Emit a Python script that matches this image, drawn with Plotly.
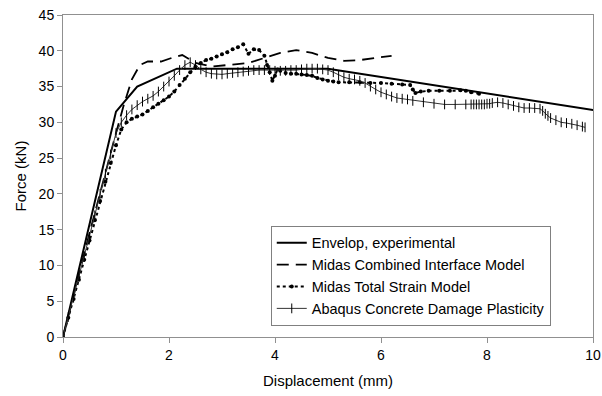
import plotly.graph_objects as go

# Envelop, experimental
env_x = [0, 1.0, 1.4, 2.15, 5.0, 10.1]
env_y = [0, 31.5, 35.0, 37.5, 37.5, 31.6]

# Midas Combined Interface Model
ci_x = [0, 0.5, 1.0, 1.15, 1.3, 1.45, 1.6, 1.85, 2.05, 2.25, 2.5, 2.8, 3.1, 3.5, 3.8, 4.1, 4.4, 4.7, 5.0, 5.3, 5.6, 5.9, 6.2]
ci_y = [0, 14.5, 28.5, 32.5, 36.0, 38.0, 38.5, 38.5, 39.0, 39.4, 38.3, 37.8, 38.0, 38.3, 39.0, 39.7, 40.1, 39.7, 39.0, 38.6, 38.7, 39.0, 39.3]

# Midas Total Strain Model
ts_x = [0, 0.1, 0.2, 0.3, 0.4, 0.5, 0.6, 0.7, 0.8, 0.9, 1.0, 1.1, 1.2, 1.3, 1.4, 1.5, 1.6, 1.7, 1.8, 1.9,
        2.0, 2.1, 2.2, 2.3, 2.4, 2.5, 2.6, 2.7, 2.8, 2.9, 3.0, 3.1, 3.2, 3.3, 3.4, 3.5, 3.6, 3.7, 3.8, 3.85,
        3.9, 3.95, 4.0, 4.05, 4.1, 4.2, 4.3, 4.4, 4.5, 4.6, 4.7, 4.8, 4.9, 5.0, 5.1, 5.2, 5.4, 5.6, 5.8, 6.0,
        6.2, 6.4, 6.55, 6.6, 6.65, 6.75, 6.9, 7.1, 7.3, 7.5, 7.6, 7.7, 7.85]
ts_y = [0, 2.7, 5.3, 8.0, 10.8, 13.5, 16.3, 19.0, 21.7, 24.3, 26.8, 29.0, 30.0, 30.5, 30.8, 31.1, 31.6, 32.1, 32.6, 33.1,
        33.6, 34.3, 35.2, 36.1, 37.0, 37.8, 38.3, 38.7, 38.9, 39.2, 39.5, 39.8, 40.2, 40.5, 40.9, 39.6, 40.2, 40.1, 39.3, 38.0,
        37.0, 35.8, 36.5, 37.4, 37.2, 36.9, 36.8, 36.8, 36.7, 36.6, 36.5, 36.2, 36.0, 35.8, 35.7, 35.6, 35.6, 35.6, 35.5, 35.5,
        35.4, 35.3, 35.2, 34.6, 34.1, 34.3, 34.4, 34.4, 34.4, 34.5, 34.4, 34.2, 34.0]

# Abaqus Concrete Damage Plasticity
ab_x = [0, 0.1, 0.2, 0.3, 0.4, 0.5, 0.6, 0.7, 0.8, 0.9, 1.0, 1.1, 1.2, 1.3, 1.4, 1.5, 1.6, 1.7, 1.8, 1.9,
        2.0, 2.1, 2.2, 2.3, 2.4, 2.5, 2.6, 2.7, 2.8, 2.9, 3.0, 3.1, 3.2, 3.3, 3.4, 3.5, 3.6, 3.7, 3.8, 3.9,
        4.0, 4.1, 4.2, 4.3, 4.4, 4.5, 4.6, 4.7, 4.8, 4.9, 5.0, 5.1, 5.2, 5.3, 5.4, 5.5, 5.6, 5.7, 5.8, 5.9,
        6.0, 6.1, 6.2, 6.3, 6.4, 6.5, 6.6, 6.8, 7.0, 7.2, 7.4, 7.6, 7.7, 7.75, 7.8, 7.85, 7.9, 7.95, 8.0, 8.05,
        8.1, 8.2, 8.3, 8.4, 8.5, 8.6, 8.7, 8.8, 8.9, 9.0, 9.05, 9.1, 9.15, 9.2, 9.3, 9.4, 9.5, 9.6, 9.7, 9.8, 9.85]
ab_y = [0, 2.8, 5.5, 8.5, 11.3, 14.0, 17.0, 20.0, 22.8, 25.5, 28.5, 30.0, 31.0, 31.8, 32.4, 32.9, 33.3, 33.7, 34.3, 35.0,
        35.7, 36.5, 37.3, 38.0, 38.4, 38.0, 37.4, 37.0, 36.8, 36.7, 36.7, 36.8, 36.9, 37.0, 37.1, 37.2, 37.3, 37.3, 37.3, 37.3,
        37.2, 37.2, 37.2, 37.3, 37.3, 37.4, 37.5, 37.5, 37.5, 37.4, 37.3, 37.0, 36.6, 36.3, 36.1, 36.0, 35.8, 35.5, 35.0, 34.6,
        34.2, 33.9, 33.6, 33.4, 33.3, 33.2, 33.0, 32.8, 32.6, 32.5, 32.5, 32.5, 32.5, 32.5, 32.5, 32.5, 32.5, 32.5, 32.6, 32.6,
        32.7, 32.8, 32.7, 32.5, 32.3, 32.1, 32.0, 32.0, 32.0, 31.9, 31.6, 31.2, 30.9, 30.6, 30.3, 30.0, 29.9, 29.8, 29.6, 29.4, 29.3]

x_ticks = [0, 2, 4, 6, 8, 10]
y_ticks = [0, 5, 10, 15, 20, 25, 30, 35, 40, 45]

fig = go.Figure()
fig.add_trace(go.Scatter(x=env_x, y=env_y, mode="lines", name="Envelop, experimental",
                         line=dict(color="black", width=2)))
fig.add_trace(go.Scatter(x=ci_x, y=ci_y, mode="lines", name="Midas Combined Interface Model",
                         line=dict(color="black", width=1.8, dash="12px,7px")))
fig.add_trace(go.Scatter(x=ts_x, y=ts_y, mode="lines+markers", name="Midas Total Strain Model",
                         line=dict(color="black", width=2, dash="dot"),
                         marker=dict(symbol="circle", size=4, color="black")))
fig.add_trace(go.Scatter(x=ab_x, y=ab_y, mode="lines+markers", name="Abaqus Concrete Damage Plasticity",
                         line=dict(color="#333333", width=1),
                         marker=dict(symbol="line-ns", size=7, color="black",
                                     line=dict(color="black", width=1))))

axis_common = dict(showline=True, linecolor="#909090", linewidth=1, mirror=True,
                   showgrid=False, zeroline=False, ticks="outside", ticklen=5,
                   tickcolor="#909090", ticklabeloverflow="allow", automargin=False,
                   tickfont=dict(family="Liberation Sans, Arial", size=14, color="black"))

fig.update_layout(
    width=602, height=396,
    margin=dict(l=63, r=9, t=15, b=59),
    paper_bgcolor="white", plot_bgcolor="white",
    font=dict(family="Liberation Sans, Arial", size=14, color="black"),
    xaxis=dict(range=[0, 10], tickvals=x_ticks,
               title=dict(text="Displacement (mm)", font=dict(size=15), standoff=13), **axis_common),
    yaxis=dict(range=[0, 45], tickvals=y_ticks,
               title=dict(text="Force (kN)", font=dict(size=15), standoff=8), **axis_common),
    legend=dict(x=0.392, y=0.345, xanchor="left", yanchor="top",
                bordercolor="#808080", borderwidth=1, bgcolor="white",
                font=dict(size=14.5), tracegroupgap=0, itemwidth=30),
    showlegend=True,
)

fig.write_html("out.html")
